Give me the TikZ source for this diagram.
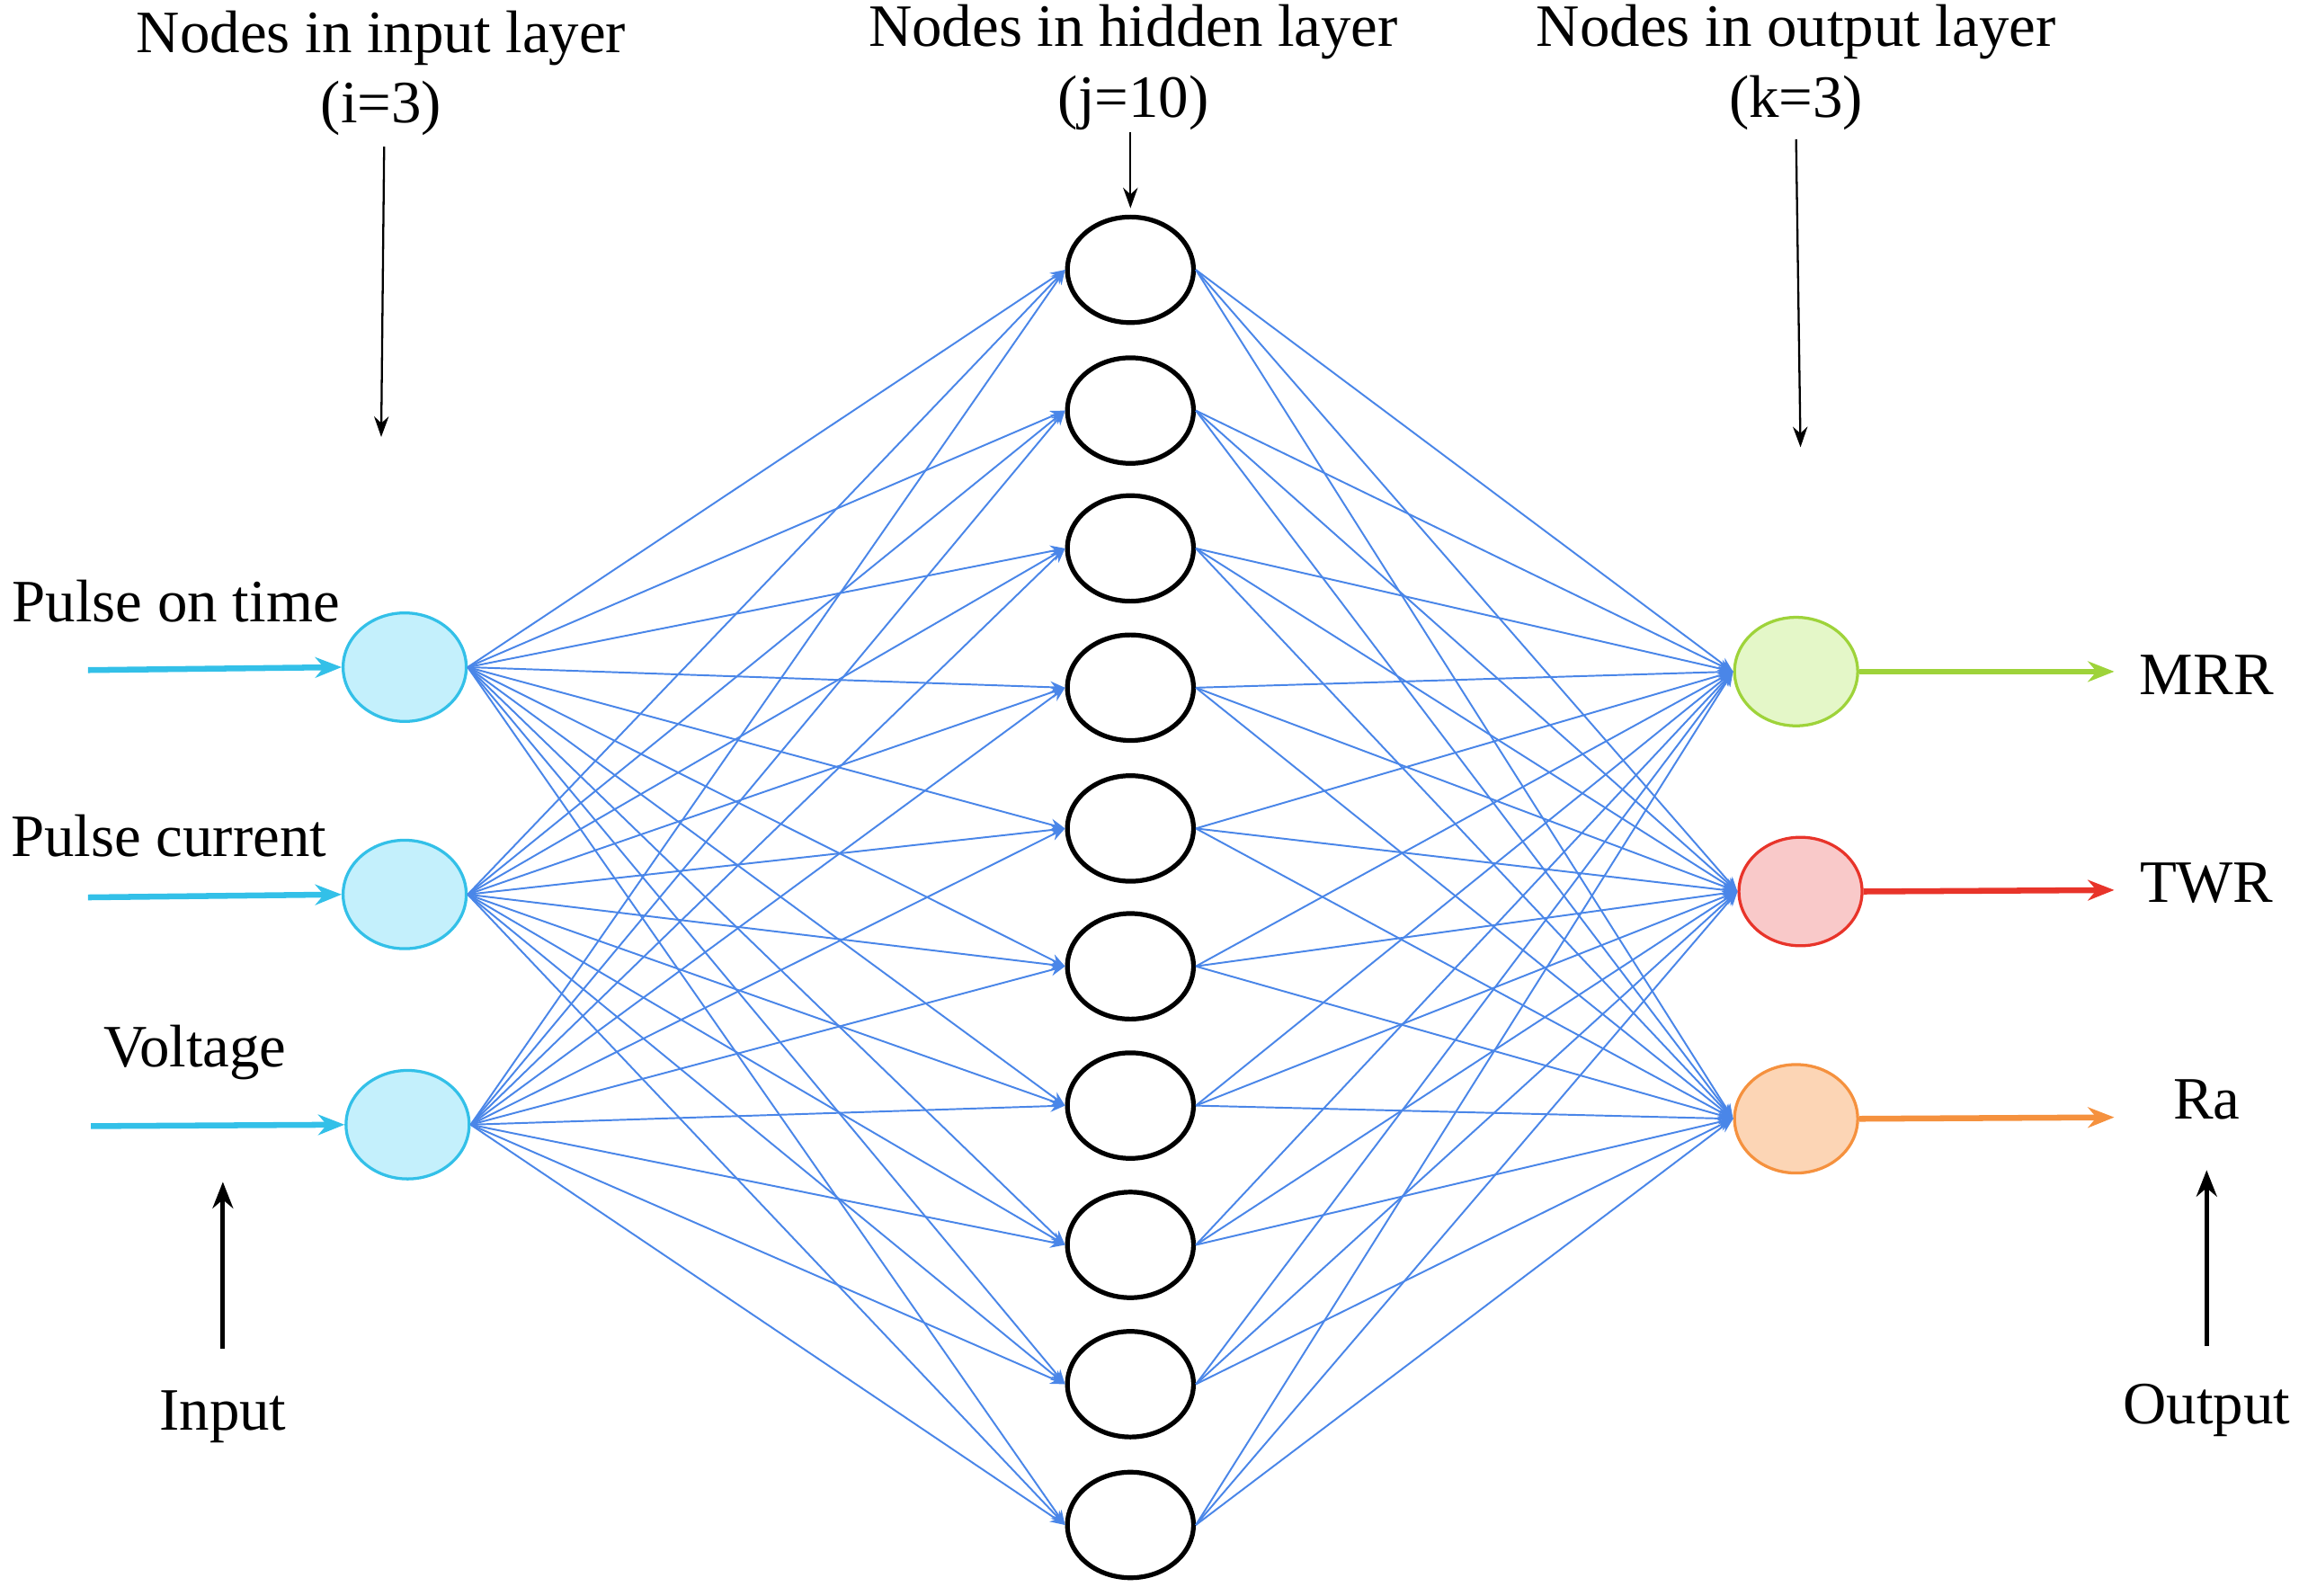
\documentclass[tikz,border=0pt]{standalone}
\usepackage{fontspec}
\setmainfont{Liberation Serif}
\usetikzlibrary{shapes.geometric,arrows.meta}
\definecolor{edge}{HTML}{4A86E8}
\definecolor{cy}{HTML}{33C0E8}
\definecolor{cyf}{HTML}{C4F0FC}
\definecolor{gr}{HTML}{9ED33A}
\definecolor{grf}{HTML}{E4F7C8}
\definecolor{rd}{HTML}{E8342A}
\definecolor{rdf}{HTML}{F9C9C9}
\definecolor{or}{HTML}{F5913E}
\definecolor{orf}{HTML}{FCD5B5}
\begin{document}
\begin{tikzpicture}[x=0.5pt,y=-0.5pt,
  lbl/.style={font=\fontsize{20.5}{24}\selectfont},
  inn/.style={ellipse,draw=cy,fill=cyf,line width=1pt,minimum width=42pt,minimum height=37pt,inner sep=0},
  hid/.style={ellipse,draw=black,line width=1.6pt,minimum width=43pt,minimum height=36pt,inner sep=0},
  outn/.style={ellipse,line width=1pt,minimum width=42pt,minimum height=37pt,inner sep=0},
  con/.style={draw=edge,line width=0.6pt,-{Stealth[length=5pt,width=4pt]}},
  big/.style={line width=2pt,-{Stealth[length=9pt,width=7pt]}},
  ptr/.style={line width=0.7pt,-{Stealth[length=7pt,width=5pt]}}]
\useasboundingbox (0,0) rectangle (1568,1088);
\node[inn] (i1) at (276,455) {};
\node[inn] (i2) at (276,610) {};
\node[inn] (i3) at (278,767) {};
\foreach \n/\y in {1/184,2/280,3/374,4/469,5/565,6/659,7/754,8/849,9/944,10/1040}
  \node[hid] (h\n) at (771,\y) {};
\node[outn,draw=gr,fill=grf] (o1) at (1225,458) {};
\node[outn,draw=rd,fill=rdf] (o2) at (1228,608) {};
\node[outn,draw=or,fill=orf] (o3) at (1225,763) {};
\foreach \a in {1,2,3}
  \foreach \b in {1,...,10} {
    \draw[con] (i\a.east) -- (h\b.west);
    \draw[con] (h\b.east) -- (o\a.west);
  }
\coordinate (a1) at (60,457); \coordinate (a2) at (60,612); \coordinate (a3) at (62,768);
\draw[big,draw=cy] (a1) -- (i1.west);
\draw[big,draw=cy] (a2) -- (i2.west);
\draw[big,draw=cy] (a3) -- (i3.west);
\node[lbl] (m1) at (1505,460) {MRR};
\node[lbl] (m2) at (1505,602) {TWR};
\node[lbl] (m3) at (1505,750) {Ra};
\coordinate (e1) at (1442,458); \coordinate (e2) at (1442,607); \coordinate (e3) at (1442,762);
\draw[big,draw=gr] (o1.east) -- (e1);
\draw[big,draw=rd] (o2.east) -- (e2);
\draw[big,draw=or] (o3.east) -- (e3);
\node[lbl] (t1) at (120,410) {Pulse on time};
\node[lbl] (t2) at (115,570) {Pulse current};
\node[lbl] (t3) at (133,718) {Voltage};
\node[lbl] (in) at (152,966) {Input};
\node[lbl] (out) at (1505,962) {Output};
\draw[big,line width=1.5pt] (152,920) -- (152,806);
\draw[big,line width=1.5pt] (1505,918) -- (1505,798);
\node[lbl,align=center] (L1) at (260,50) {Nodes in input layer\\(i=3)};
\node[lbl,align=center] (L2) at (773,46) {Nodes in hidden layer\\(j=10)};
\node[lbl,align=center] (L3) at (1225,46) {Nodes in output layer\\(k=3)};
\draw[ptr] (262,100) -- (260,298);
\draw[ptr] (771,90) -- (771,142);
\draw[ptr] (1225,95) -- (1228,305);
\end{tikzpicture}
\end{document}
